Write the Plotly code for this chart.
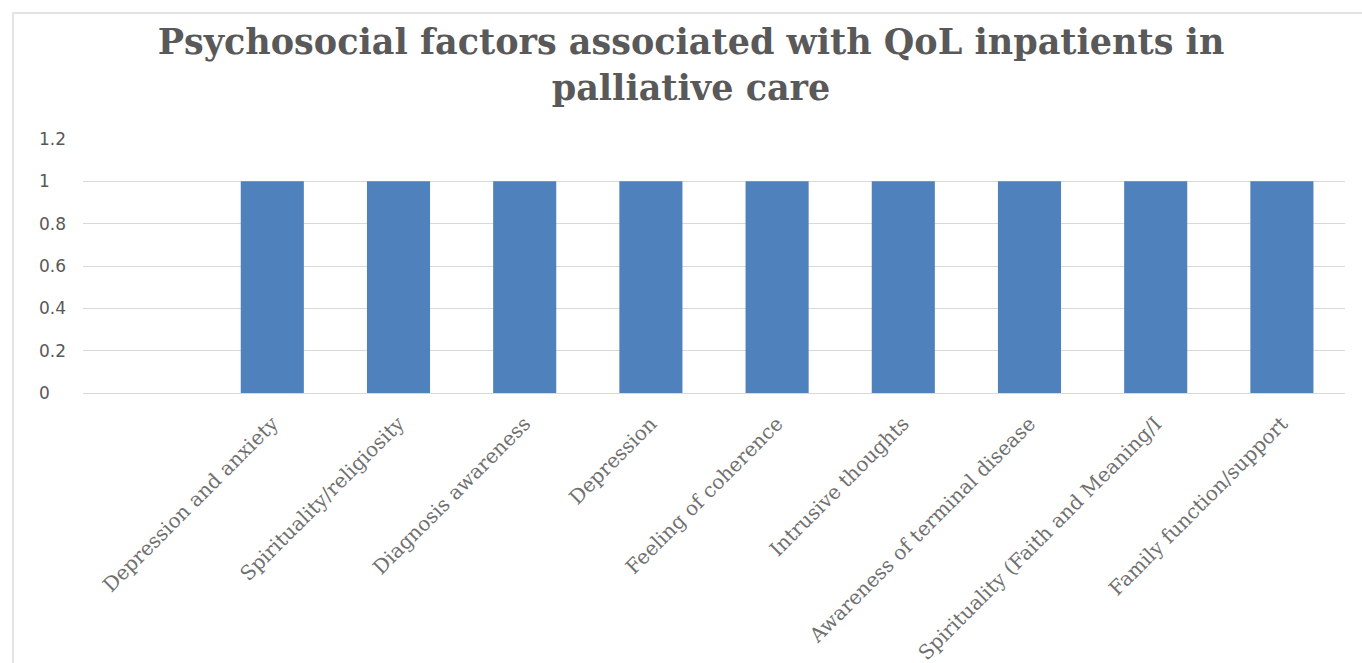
import plotly.graph_objects as go

categories = [" ", "Depression and anxiety", "Spirituality/religiosity", "Diagnosis awareness",
              "Depression", "Feeling of coherence", "Intrusive thoughts",
              "Awareness of terminal disease", "Spirituality (Faith and Meaning/I",
              "Family function/support"]
values = [None, 1, 1, 1, 1, 1, 1, 1, 1, 1]
y_ticks = [0, 0.2, 0.4, 0.6, 0.8, 1, 1.2]
y_tick_labels = ["0", "0.2", "0.4", "0.6", "0.8", "1", "1.2"]

W, H = 1362, 663
L, R, T, B = 83, 17, 139, 270
pw, ph = W - L - R, H - T - B

fig = go.Figure(go.Bar(x=categories, y=values, marker_color="#4f81bd",
                       marker_line_width=0, width=0.5))

annotations = []
for v, lab in zip(y_ticks, y_tick_labels):
    annotations.append(dict(x=(37 - L) / pw, xref="paper", y=v, yref="y", text=lab,
                            showarrow=False, xanchor="left", yanchor="middle",
                            font=dict(family="DejaVu Sans", size=17, color="#595959")))

fig.update_layout(
    width=W, height=H,
    margin=dict(l=L, r=R, t=T, b=B, autoexpand=False),
    paper_bgcolor="white", plot_bgcolor="white",
    title=dict(text="<b>Psychosocial factors associated with QoL inpatients in<br>palliative care</b>",
               x=0.5 + (691 - W / 2) / W, xanchor="center", y=1 - 54 / H, yanchor="middle",
               font=dict(family="DejaVu Serif", size=35, color="#595959")),
    xaxis=dict(type="category", tickangle=-45, showgrid=False, showline=False,
               ticks="", ticklabelstandoff=14, automargin=False,
               tickfont=dict(family="DejaVu Serif", size=20, color="#707070"),
               range=[-0.5, len(categories) - 0.5]),
    yaxis=dict(range=[0, 1.2], tickvals=y_ticks, showticklabels=False, automargin=False,
               gridcolor="#d9d9d9", gridwidth=1, zeroline=True, zerolinecolor="#d9d9d9",
               zerolinewidth=1, showline=False),
    annotations=annotations,
    shapes=[dict(type="rect", xref="paper", yref="paper",
                 x0=(13 - L) / pw, x1=(W + 5 - L) / pw,
                 y0=(H - B - (H + 5)) / ph, y1=(H - B - 13) / ph,
                 line=dict(color="#e3e3e3", width=2), layer="below")],
    showlegend=False,
)

fig.write_html("out.html")
